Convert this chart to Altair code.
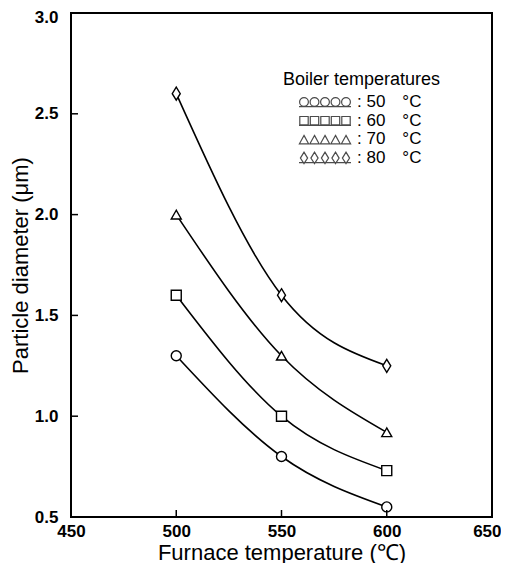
import altair as alt
import pandas as pd

# ---- data ----
furnace = [500, 550, 600]
boiler = ["50", "60", "70", "80"]
d50 = [1.30, 0.80, 0.55]
d60 = [1.60, 1.00, 0.73]
d70 = [2.00, 1.30, 0.92]
d80 = [2.60, 1.60, 1.25]
x_label_values = [450, 500, 550, 600, 650]
y_label_values = [0.5, 1.0, 1.5, 2.0, 2.5, 3.0]
x_inner_ticks = [500, 550, 600]
y_inner_ticks = [1.0, 1.5, 2.0, 2.5]

rows = []
for b, vals in zip(boiler, [d50, d60, d70, d80]):
    for f, v in zip(furnace, vals):
        rows.append({"furnace": f, "diameter": v, "boiler": b})
df = pd.DataFrame(rows)

W, H = 421, 504
FONT = "Liberation Sans"

xs = alt.Scale(domain=[450, 650], nice=False, zero=False)
ys = alt.Scale(domain=[0.5, 3.0], nice=False, zero=False)

last_x = "datum.value == 650"
x_axis = alt.Axis(values=x_label_values, format="d", title="Furnace temperature (℃)",
                  grid=False, domain=False, ticks=False, tickSize=0, labelPadding=6,
                  titlePadding=3, labelFont=FONT, labelFontSize=17, labelFontWeight="bold",
                  labelColor="black", titleColor="black",
                  titleFont=FONT, titleFontSize=22, titleFontWeight="normal",
                  labelFlush=False, labelOverlap=False,
                  labelAlign={"condition": {"test": last_x, "value": "right"}, "value": "center"},
                  labelOffset={"condition": {"test": last_x, "value": 9}, "value": 0})
top_y = "datum.value == 3"
y_axis = alt.Axis(values=y_label_values, format=".1f", title="Particle diameter (μm)",
                  grid=False, domain=False, ticks=False, tickSize=0, labelPadding=13,
                  titlePadding=2, labelFont=FONT, labelFontSize=17, labelFontWeight="bold",
                  labelColor="black", titleColor="black",
                  titleFont=FONT, titleFontSize=22, titleFontWeight="normal",
                  labelFlush=False, labelOverlap=False,
                  labelOffset={"condition": {"test": top_y, "value": 4}, "value": 0})

X = alt.X("furnace:Q", scale=xs, axis=x_axis)
Y = alt.Y("diameter:Q", scale=ys, axis=y_axis)

point_shapes = ["circle", "square", "triangle-up", "M0,-1.3L0.8,0L0,1.3L-0.8,0Z"]

# legend symbols: five small shapes on a base line (unit = 1/26 px, symbolSize 2704)
U = 26.0
centers = [-21, -10.5, 0, 10.5, 21]


def f(v):
    return f"{v / U:.4f}"


def circles():
    r = 4.4
    p = ""
    for c in centers:
        p += f"M{f(c + r)},{f(0)}A{f(r)},{f(r)} 0 1,1 {f(c - r)},{f(0)}A{f(r)},{f(r)} 0 1,1 {f(c + r)},{f(0)}Z"
    return p


def squares():
    h = 4.2
    return "".join(f"M{f(c - h)},{f(-h)}L{f(c + h)},{f(-h)}L{f(c + h)},{f(h)}L{f(c - h)},{f(h)}Z" for c in centers)


def triangles():
    return "".join(f"M{f(c)},{f(-4)}L{f(c + 4.6)},{f(4.4)}L{f(c - 4.6)},{f(4.4)}Z" for c in centers)


def diamonds():
    return "".join(f"M{f(c)},{f(-6)}L{f(c + 3.6)},{f(0)}L{f(c)},{f(5.5)}L{f(c - 3.6)},{f(0)}Z" for c in centers)


base = f"M{f(-26)},{f(4.6)}L{f(26)},{f(4.6)}"
legend_shapes = [circles() + base, squares() + base, triangles() + base, diamonds() + base]

lines = alt.Chart(df).mark_line(interpolate="monotone", color="black", strokeWidth=1.6).encode(
    x=X, y=Y, detail="boiler:N")

points = alt.Chart(df).mark_point(filled=True, fill="white", stroke="black", strokeWidth=1.4,
                                  size=100, opacity=1).encode(
    x=X, y=Y,
    shape=alt.Shape("boiler:N", scale=alt.Scale(domain=boiler, range=point_shapes), legend=None))

legend_layer = alt.Chart(df).transform_filter("false").mark_point(
    filled=False, color="black", strokeWidth=1.2).encode(
    x=X, y=Y,
    shape=alt.Shape("boiler:N", scale=alt.Scale(domain=boiler, range=legend_shapes),
                    legend=alt.Legend(orient="none", legendX=212, legendY=58,
                                      title="Boiler temperatures", titleFont=FONT,
                                      titleFontSize=18, titleFontWeight="normal",
                                      titleColor="black", titlePadding=4,
                                      labelFont=FONT, labelFontSize=17, labelColor="black",
                                      labelExpr="': ' + datum.label + '\u2003°C'",
                                      symbolSize=2704, symbolOffset=15, labelOffset=5,
                                      clipHeight=18, rowPadding=0.7,
                                      symbolStrokeColor="black", symbolStrokeWidth=1.2,
                                      symbolFillColor="transparent")))

xt = alt.Chart(pd.DataFrame({"furnace": x_inner_ticks})).mark_rule(
    color="black", strokeWidth=1.5).encode(x=X, y=alt.value(H), y2=alt.value(H - 7))
yt = alt.Chart(pd.DataFrame({"diameter": y_inner_ticks})).mark_rule(
    color="black", strokeWidth=1.5).encode(y=Y, x=alt.value(0), x2=alt.value(7))

chart = alt.layer(lines, points, legend_layer, xt, yt).resolve_scale(shape="independent").properties(
    width=W, height=H,
    autosize=alt.AutoSizeParams(type="none"),
    padding={"left": 63, "top": 5, "right": 9, "bottom": 46},
    background="white",
).configure_view(stroke="black", strokeWidth=2)

chart.save("out.html", embed_options={"renderer": "svg", "actions": False})
